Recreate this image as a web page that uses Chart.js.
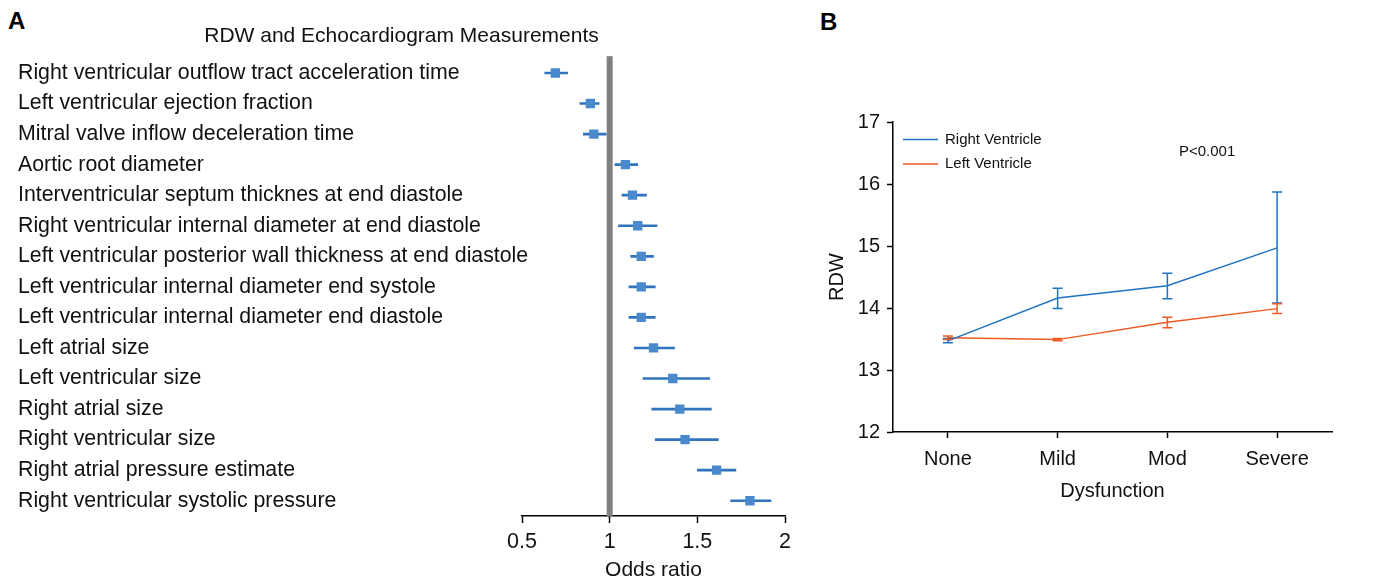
<!DOCTYPE html>
<html lang="en">

<head>
    <meta charset="UTF-8">
    <title>RDW and Echocardiogram</title>
    <script src="https://cdn.jsdelivr.net/npm/chart.js"></script>
    <style>
        body {
            margin: 0;
            background: #fff;
            width: 1378px;
            height: 579px;
            overflow: hidden;
            position: relative;
            font-family: "Liberation Sans", Arial, sans-serif;
        }

        .letra {
            position: absolute;
            font-weight: bold;
            font-size: 24px;
            line-height: 24px;
            color: #000;
        }

        #caixaA {
            position: absolute;
            left: 0;
            top: 0;
            width: 800px;
            height: 579px;
        }

        #caixaB {
            position: absolute;
            left: 820px;
            top: 0;
            width: 558px;
            height: 579px;
        }
    </style>
</head>

<body>
    <div class="letra" style="left:8px; top:9px;">A</div>
    <div class="letra" style="left:820px; top:10px;">B</div>

    <div id="caixaA"><canvas id="grafico_forest"></canvas></div>
    <div id="caixaB"><canvas id="grafico_rdw"></canvas></div>
</body>

<script>
// Painel A - odds ratio por medida
const medidas = [
    'Right ventricular outflow tract acceleration time',
    'Left ventricular ejection fraction',
    'Mitral valve inflow deceleration time',
    'Aortic root diameter',
    'Interventricular septum thicknes at end diastole',
    'Right ventricular internal diameter at end diastole',
    'Left ventricular posterior wall thickness at end diastole',
    'Left ventricular internal diameter end systole',
    'Left ventricular internal diameter end diastole',
    'Left atrial size',
    'Left ventricular size',
    'Right atrial size',
    'Right ventricular size',
    'Right atrial pressure estimate',
    'Right ventricular systolic pressure'
];
const oddsRatio = [0.69, 0.89, 0.91, 1.09, 1.13, 1.16, 1.18, 1.18, 1.18, 1.25, 1.36, 1.40, 1.43, 1.61, 1.80];
const icInferior = [0.63, 0.83, 0.85, 1.03, 1.07, 1.05, 1.12, 1.11, 1.11, 1.14, 1.19, 1.24, 1.26, 1.50, 1.69];
const icSuperior = [0.76, 0.94, 0.98, 1.16, 1.21, 1.27, 1.25, 1.26, 1.26, 1.37, 1.57, 1.58, 1.62, 1.72, 1.92];
const ticksOdds = [0.5, 1, 1.5, 2];

// Painel B - RDW por grau de disfuncao
const graus = ['None', 'Mild', 'Mod', 'Severe'];
const rdwDireito = [13.47, 14.16, 14.36, 14.97];
const rdwDireitoMin = [13.44, 13.99, 14.15, 14.08];
const rdwDireitoMax = [13.51, 14.32, 14.56, 15.87];
const rdwEsquerdo = [13.52, 13.49, 13.77, 13.99];
const rdwEsquerdoMin = [13.49, 13.47, 13.68, 13.91];
const rdwEsquerdoMax = [13.55, 13.51, 13.85, 14.07];
const ticksRdw = [12, 13, 14, 15, 16, 17];

Chart.defaults.font.family = '"Liberation Sans", Arial, sans-serif';
Chart.defaults.color = '#111';
Chart.defaults.animation = false;

// linha cinza vertical no OR = 1
const linhaReferencia = {
    id: 'linhaReferencia',
    beforeDatasetsDraw(chart) {
        const { ctx, chartArea, scales } = chart;
        const x = scales.x.getPixelForValue(1);
        ctx.save();
        ctx.fillStyle = '#808080';
        ctx.fillRect(x - 3, chartArea.top - 1.5, 6, chartArea.bottom - chartArea.top + 1.5);
        ctx.restore();
    }
};

// nomes das medidas: o eixo corta o texto que passa da area, entao escrevo aqui
const nomesMedidas = {
    id: 'nomesMedidas',
    afterDraw(chart) {
        const { ctx, scales } = chart;
        ctx.save();
        ctx.font = '21.3px "Liberation Sans", Arial, sans-serif';
        ctx.fillStyle = '#111';
        ctx.textAlign = 'left';
        ctx.textBaseline = 'middle';
        chart.data.labels.forEach((nome, i) => {
            ctx.fillText(nome, 18, scales.y.getPixelForTick(i));
        });
        ctx.restore();
    }
};

const GraficoForest = new Chart(document.getElementById('grafico_forest'), {
    type: 'bar',
    data: {
        labels: medidas,
        datasets: [
            {
                type: 'line',
                label: 'OR',
                data: oddsRatio,
                showLine: false,
                pointStyle: 'rect',
                pointRadius: 6.6,
                pointHoverRadius: 6.6,
                pointBackgroundColor: '#4a89cc',
                pointBorderWidth: 0,
                order: 0
            },
            {
                label: 'IC 95%',
                data: medidas.map((m, i) => [icInferior[i], icSuperior[i]]),
                backgroundColor: '#2f73bf',
                barThickness: 2,
                order: 1
            }
        ]
    },
    options: {
        indexAxis: 'y',
        responsive: true,
        maintainAspectRatio: false,
        layout: { padding: { left: 18, right: 15, top: 0, bottom: 0 } },
        plugins: {
            legend: { display: false },
            tooltip: { enabled: false },
            title: {
                display: true,
                text: 'RDW and Echocardiogram Measurements',
                color: '#111',
                font: { size: 21, weight: 'normal' },
                padding: { top: 23.4, bottom: 9.1 }
            }
        },
        scales: {
            x: {
                type: 'linear',
                min: 0.5,
                max: 2,
                afterBuildTicks: s => { s.ticks = ticksOdds.map(v => ({ value: v })); },
                grid: { drawOnChartArea: false, tickLength: 7, color: '#000', tickWidth: 1.5 },
                border: { color: '#000', width: 1.5 },
                ticks: { font: { size: 21.5, lineHeight: 1 }, color: '#111', padding: 8, callback: v => String(v) },
                title: {
                    display: true, text: 'Odds ratio', color: '#111',
                    font: { size: 21, lineHeight: 1 }, padding: { top: 0, bottom: -2 }
                },
                afterFit: s => { s.height = 63; }
            },
            y: {
                type: 'category',
                offset: true,
                grid: { display: false },
                border: { display: false },
                ticks: { display: false },
                afterFit: s => { s.width = 504; }
            }
        }
    },
    plugins: [linhaReferencia, nomesMedidas]
});

// barras de erro com traco nas pontas
const barrasErro = {
    id: 'barrasErro',
    afterDatasetsDraw(chart) {
        const { ctx, scales } = chart;
        const limites = [[rdwDireitoMin, rdwDireitoMax], [rdwEsquerdoMin, rdwEsquerdoMax]];
        chart.data.datasets.forEach((ds, d) => {
            const meta = chart.getDatasetMeta(d);
            ctx.save();
            ctx.strokeStyle = ds.borderColor;
            ctx.lineWidth = 1.5;
            meta.data.forEach((pt, i) => {
                const yMin = scales.y.getPixelForValue(limites[d][0][i]);
                const yMax = scales.y.getPixelForValue(limites[d][1][i]);
                ctx.beginPath();
                ctx.moveTo(pt.x, yMin); ctx.lineTo(pt.x, yMax);
                ctx.moveTo(pt.x - 5, yMin); ctx.lineTo(pt.x + 5, yMin);
                ctx.moveTo(pt.x - 5, yMax); ctx.lineTo(pt.x + 5, yMax);
                ctx.stroke();
            });
            ctx.restore();
        });
    }
};

// legenda e valor de p dentro da area
const legendaB = {
    id: 'legendaB',
    afterDraw(chart) {
        const ctx = chart.ctx;
        ctx.save();
        ctx.font = '15px "Liberation Sans", Arial, sans-serif';
        ctx.fillStyle = '#111';
        ctx.textBaseline = 'middle';
        chart.data.datasets.forEach((ds, d) => {
            const y = 139.5 + d * 24.5;
            ctx.strokeStyle = ds.borderColor;
            ctx.lineWidth = 1.5;
            ctx.beginPath();
            ctx.moveTo(83, y); ctx.lineTo(118, y);
            ctx.stroke();
            ctx.fillText(ds.label, 125, y);
        });
        ctx.fillText('P<0.001', 359, 152);
        ctx.restore();
    }
};

const GraficoRdw = new Chart(document.getElementById('grafico_rdw'), {
    type: 'line',
    data: {
        labels: graus,
        datasets: [
            {
                label: 'Right Ventricle',
                data: rdwDireito,
                borderColor: '#1f74c2',
                borderWidth: 1.5,
                pointRadius: 0
            },
            {
                label: 'Left Ventricle',
                data: rdwEsquerdo,
                borderColor: '#ee5a24',
                borderWidth: 1.5,
                pointRadius: 0
            }
        ]
    },
    options: {
        responsive: true,
        maintainAspectRatio: false,
        layout: { padding: { left: 0, right: 46, top: 122, bottom: 77 } },
        plugins: {
            legend: { display: false },
            tooltip: { enabled: false }
        },
        scales: {
            x: {
                type: 'category',
                offset: true,
                grid: { drawOnChartArea: false, tickLength: 6, color: '#000', tickWidth: 1.5, offset: false },
                border: { color: '#000', width: 1.5 },
                ticks: { font: { size: 20 }, color: '#111', padding: 9 },
                title: {
                    display: true, text: 'Dysfunction', color: '#111',
                    font: { size: 20 }, padding: { top: 0, bottom: -1 }
                },
                afterFit: s => { s.height = 70; }
            },
            y: {
                type: 'linear',
                min: 12,
                max: 17,
                afterBuildTicks: s => { s.ticks = ticksRdw.map(v => ({ value: v })); },
                grid: { drawOnChartArea: false, tickLength: 6, color: '#000', tickWidth: 1.5 },
                border: { color: '#000', width: 1.5 },
                ticks: { font: { size: 20 }, color: '#111', padding: 7 },
                title: {
                    display: true, text: 'RDW', color: '#111',
                    font: { size: 20 }, padding: { top: 5, bottom: 0 }
                },
                afterFit: s => { s.width = 73; }
            }
        }
    },
    plugins: [barrasErro, legendaB]
});
</script>

</html>
